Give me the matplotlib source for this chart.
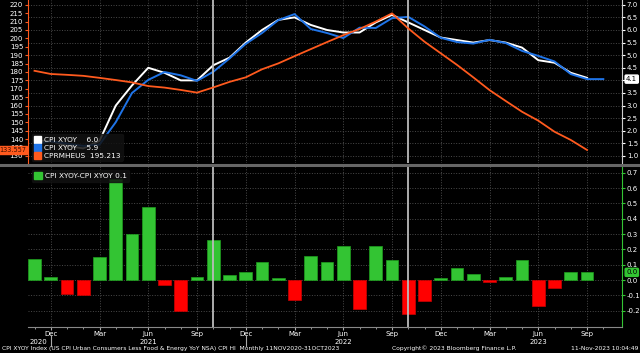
import numpy as np
import matplotlib.pyplot as plt
from matplotlib.patches import Patch
from matplotlib.lines import Line2D

# months Nov 2020 .. Oct 2023 as index 0..35
months = ['Nov', 'Dec', 'Jan', 'Feb', 'Mar', 'Apr', 'May', 'Jun', 'Jul', 'Aug', 'Sep', 'Oct'] * 3
core_cpi = [1.6, 1.6, 1.4, 1.3, 1.6, 3.0, 3.8, 4.5, 4.3, 4.0, 4.0, 4.6,
            4.9, 5.5, 6.0, 6.4, 6.5, 6.2, 6.0, 5.9, 5.9, 6.3, 6.6, 6.3,
            6.0, 5.7, 5.6, 5.5, 5.6, 5.5, 5.3, 4.8, 4.7, 4.3, 4.1]
core_cpi_2 = [1.46, 1.58, 1.49, 1.40, 1.45, 2.34, 3.50, 4.02, 4.33, 4.20, 3.98, 4.34,
              4.87, 5.45, 5.88, 6.39, 6.63, 6.04, 5.88, 5.68, 6.09, 6.08, 6.47, 6.52,
              6.14, 5.69, 5.52, 5.46, 5.61, 5.48, 5.17, 4.97, 4.75, 4.25, 4.05, 4.05]
cprmheus = [180.7, 178.8, 178.3, 177.7, 176.5, 175.2, 173.8, 171.6, 170.7, 169.3, 167.7, 170.8,
            174.1, 176.8, 181.6, 185.1, 189.4, 193.6, 197.8, 201.9, 205.6, 210.0, 214.9, 205.9,
            198.0, 191.1, 184.2, 176.8, 169.2, 162.7, 156.3, 151.0, 144.4, 139.5, 133.557]
diff = [0.14, 0.02, -0.09, -0.10, 0.15, 0.66, 0.30, 0.48, -0.03, -0.20, 0.02, 0.26,
        0.03, 0.05, 0.12, 0.01, -0.13, 0.16, 0.12, 0.22, -0.19, 0.22, 0.13, -0.22,
        -0.14, 0.01, 0.08, 0.04, -0.01, 0.02, 0.13, -0.17, -0.05, 0.05, 0.05]
year_labels = ['2020', '2021', '2022', '2023']
year_pos = [0.8, 7, 19, 31]

W, H = 640, 353
fig = plt.figure(figsize=(6.4, 3.53), dpi=100, facecolor='black')
ax1 = fig.add_axes([28 / W, 1 - 163 / H, 594 / W, 163 / H], facecolor='black')
ax2 = fig.add_axes([28 / W, 1 - 327 / H, 594 / W, 161 / H], facecolor='black')
axl = ax1.twinx()

WHITE = '#ffffff'
BLUE = '#1f74e8'
ORANGE = '#ff5a1e'
GREEN = '#33c433'
RED = '#ff0000'
GRID = '#4a4a4a'
fs = 5.0

xlim = (-0.4, 36.15)
qticks = list(range(1, 36, 3))

# upper panel
ax1.plot(range(len(core_cpi)), core_cpi, color=WHITE, lw=1.4, zorder=3)
ax1.plot(range(len(core_cpi_2)), core_cpi_2, color=BLUE, lw=1.4, zorder=4)
axl.plot(range(len(cprmheus)), cprmheus, color=ORANGE, lw=1.3)
ax1.set_xlim(*xlim)
ax1.set_ylim(0.72, 7.19)
axl.set_ylim(130 + (0.72 - 1) * 15, 130 + (7.19 - 1) * 15)
ax1.yaxis.tick_right()
ax1.set_yticks(np.arange(1.0, 7.01, 0.5))
ax1.set_yticklabels([f'{v:.1f}' for v in np.arange(1.0, 7.01, 0.5)])
axl.yaxis.tick_left()
axl.set_yticks(range(130, 221, 5))
ax1.set_xticks(qticks)
ax1.tick_params(axis='x', length=0, labelbottom=False)
ax1.tick_params(axis='y', colors=WHITE, labelsize=fs, length=2.5, pad=1, direction='out')
axl.tick_params(axis='y', colors=ORANGE, labelcolor=WHITE, labelsize=fs, length=2.5, pad=1)
ax1.grid(True, color=GRID, ls=':', lw=0.7)
for sp in ax1.spines.values():
    sp.set_visible(False)
for sp in axl.spines.values():
    sp.set_visible(False)
axl.spines['left'].set_visible(True)
axl.spines['left'].set_color(ORANGE)
ax1.spines['right'].set_visible(True)
ax1.spines['right'].set_color('#cccccc')

# lower panel
colors = [GREEN if v >= 0 else RED for v in diff]
edges = ['#1e9e1e' if v >= 0 else '#cc0000' for v in diff]
ax2.bar(range(len(diff)), diff, width=0.78, color=colors, edgecolor=edges, lw=0.5, zorder=3)
ax2.set_xlim(*xlim)
ax2.set_ylim(-0.307, 0.745)
ax2.yaxis.tick_right()
ax2.set_yticks(np.arange(-0.2, 0.71, 0.1))
ax2.set_yticklabels([f'{v:.1f}' for v in np.arange(-0.2, 0.71, 0.1)])
ax2.set_xticks(qticks)
ax2.set_xticklabels([months[i] for i in qticks])
ax2.set_xticks(range(0, 36), minor=True)
ax2.tick_params(axis='x', colors='#aaaaaa', labelcolor=WHITE, labelsize=fs, length=2.5, pad=0.5)
ax2.tick_params(axis='x', which='minor', colors='#aaaaaa', length=1.5)
ax2.tick_params(axis='y', colors=GREEN, labelcolor=WHITE, labelsize=fs, length=2.5, pad=1)
ax2.grid(True, color=GRID, ls=':', lw=0.7)
ax2.set_axisbelow(True)
for sp in ax2.spines.values():
    sp.set_visible(False)
ax2.spines['right'].set_visible(True)
ax2.spines['right'].set_color(GREEN)
ax2.spines['bottom'].set_visible(True)
ax2.spines['bottom'].set_color('#888888')

for ax in (ax1, ax2):
    for xv in (11, 23):
        ax.axvline(xv, color='#bbbbbb', lw=1.3, zorder=5)

# year labels under the month labels
for i, (pos, yr) in enumerate(zip(year_pos, year_labels)):
    ax2.annotate(yr, xy=(pos, 0), xycoords=('data', 'axes fraction'), xytext=(0, -8.5),
                 textcoords='offset points', ha='right' if i == 0 else 'center', va='top',
                 color=WHITE, fontsize=fs)
tr = ax2.get_xaxis_transform()
for i in (1, 13):
    ax2.add_line(Line2D([i, i], [-0.05, -0.12], transform=tr, color='#aaaaaa', lw=0.8, clip_on=False))

# separator between panels
fig.add_artist(Line2D([0, 1], [1 - 164.5 / H] * 2, color='#666666', lw=2.2))

# legends
h1 = [Patch(facecolor=WHITE, edgecolor=WHITE), Patch(facecolor=BLUE, edgecolor=BLUE),
      Patch(facecolor=ORANGE, edgecolor=ORANGE)]
lg1 = ax1.legend(h1, ['CPI XYOY    6.0', 'CPI XYOY    5.9', 'CPRMHEUS  195.213'], loc='lower left',
                 bbox_to_anchor=(0.0, -0.01), fontsize=fs + 0.3, frameon=True, facecolor='#111111',
                 edgecolor='#111111', framealpha=0.85, handlelength=1.0, handleheight=1.0,
                 handletextpad=0.4, labelspacing=0.15, borderpad=0.3, labelcolor=WHITE)
lg1.set_zorder(10)
lg2 = ax2.legend([Patch(facecolor=GREEN, edgecolor=GREEN)], ['CPI XYOY-CPI XYOY 0.1'], loc='upper left',
                 bbox_to_anchor=(0.0, 1.0), fontsize=fs + 0.3, frameon=True, facecolor='#111111',
                 edgecolor='#111111', framealpha=0.85, handlelength=1.0, handleheight=1.0,
                 handletextpad=0.4, borderpad=0.35, labelcolor=WHITE)
lg2.set_zorder(10)

# value tags
ax1.annotate('4.1', xy=(1, 4.05), xycoords=('axes fraction', 'data'), xytext=(3, 0),
             textcoords='offset points', ha='left', va='center', fontsize=fs, color='black',
             bbox=dict(boxstyle='round,pad=0.15', fc=WHITE, ec=WHITE), annotation_clip=False)
axl.annotate('133.557', xy=(0, 133.557), xycoords=('axes fraction', 'data'), xytext=(-1.5, 0),
             textcoords='offset points', ha='right', va='center', fontsize=fs - 0.3, color='#3a1000',
             bbox=dict(boxstyle='square,pad=0.12', fc=ORANGE, ec=ORANGE), annotation_clip=False)
ax2.annotate('0.0', xy=(1, 0.05), xycoords=('axes fraction', 'data'), xytext=(3, 0),
             textcoords='offset points', ha='left', va='center', fontsize=fs, color='black',
             bbox=dict(boxstyle='round,pad=0.15', fc=GREEN, ec=GREEN), annotation_clip=False)

# footer
fy = 1 - 348.5 / H
ffs = 4.3
fig.text(2 / W, fy, 'CPI XYOY Index (US CPI Urban Consumers Less Food & Energy YoY NSA) CPI HI  Monthly 11NOV2020-31OCT2023',
         color=WHITE, fontsize=ffs, va='center', ha='left')
fig.text(392 / W, fy, 'Copyright\u00a9 2023 Bloomberg Finance L.P.', color=WHITE, fontsize=ffs, va='center', ha='left')
fig.text(638 / W, fy, '11-Nov-2023 10:04:49', color=WHITE, fontsize=ffs, va='center', ha='right')

fig.savefig('out.png', dpi=100, facecolor='black')
